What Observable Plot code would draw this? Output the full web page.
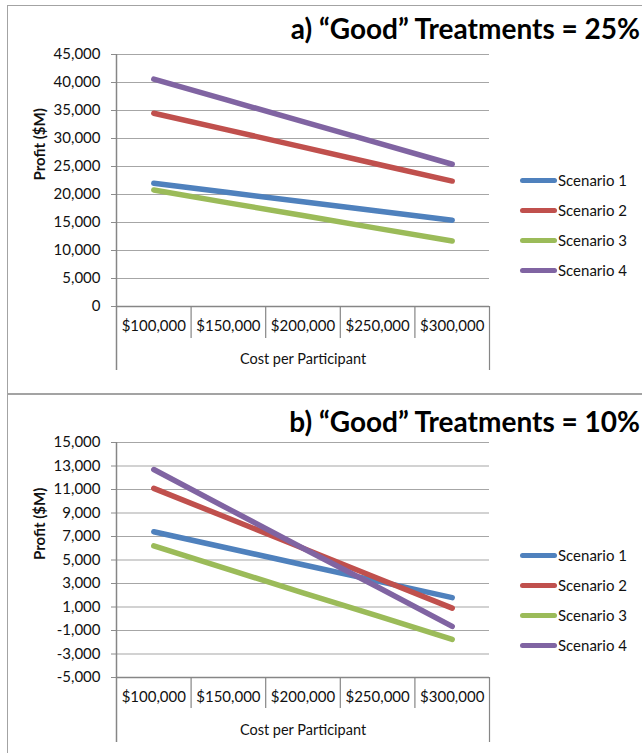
<!DOCTYPE html>
<html>
<head>
<meta charset="utf-8">
<script src="https://cdn.jsdelivr.net/npm/d3@7"></script>
<script src="https://cdn.jsdelivr.net/npm/@observablehq/plot@0.6"></script>
<style>
  html, body { margin: 0; padding: 0; background: #fff; }
  body { width: 642px; height: 753px; position: relative; overflow: hidden; font-family: Lato, "Open Sans", sans-serif; }
  .panel { position: absolute; left: 7px; width: 640px; box-sizing: border-box; border-left: 1.5px solid #a3a3a3; }
  .chart { position: absolute; left: 0; }
  .title { position: absolute; right: 2px; font: bold 28px Lato, sans-serif; color: #000; line-height: 1; white-space: nowrap; }
  .legend { position: absolute; left: 520px; font: 15px Lato, sans-serif; color: #111; }
  .legend .row { display: flex; align-items: center; height: 30px; }
  .legend .sw { display: inline-block; width: 37px; height: 5px; border-radius: 3px; margin-right: 1px; }
  g[aria-label^="y-axis"] line, g[aria-label="y-axis tick"] path { stroke: #8c8c8c; }
  g[aria-label="y-axis tick"] { stroke: #8c8c8c; }
</style>
</head>
<body>
<div class="panel" style="top:5px;height:388.5px;border-top:1.5px solid #a3a3a3;border-bottom:1.5px solid #a3a3a3;"></div>
<div class="panel" style="top:393.5px;height:400px;border-top:1.5px solid #a3a3a3;"></div>
<div id="chartA" class="chart" style="top:0px;"></div>
<div id="chartB" class="chart" style="top:393px;"></div>
<div class="title" style="top:14px;">a) “Good” Treatments = 25%</div>
<div class="title" style="top:407px;">b) “Good” Treatments = 10%</div>
<div id="legendA" class="legend" style="top:165px;"></div>
<div id="legendB" class="legend" style="top:540px;"></div>
<script>
// ---- data ----
const categories = ["$100,000", "$150,000", "$200,000", "$250,000", "$300,000"];
const seriesNames = ["Scenario 1", "Scenario 2", "Scenario 3", "Scenario 4"];
const seriesColors = ["#4F81BD", "#C0504D", "#9BBB59", "#8064A2"];
const xTitle = "Cost per Participant";
const yTitle = "Profit ($M)";

// a) "Good" Treatments = 25%
const profitA1 = [22000, 20350, 18700, 17050, 15400];
const profitA2 = [34500, 31500, 28450, 25400, 22400];
const profitA3 = [20800, 18500, 16250, 13950, 11700];
const profitA4 = [40600, 36800, 33000, 29200, 25400];
const yTicksA = [0, 5000, 10000, 15000, 20000, 25000, 30000, 35000, 40000, 45000];

// b) "Good" Treatments = 10%
const profitB1 = [7400, 6000, 4600, 3200, 1800];
const profitB2 = [11100, 8550, 6000, 3450, 900];
const profitB3 = [6200, 4200, 2200, 250, -1750];
const profitB4 = [12700, 9350, 6000, 2700, -650];
const yTicksB = [-5000, -3000, -1000, 1000, 3000, 5000, 7000, 9000, 11000, 13000, 15000];

// ---- helpers ----
const fmt = d => (d < 0 ? "-" : "") + d3.format(",")(Math.abs(d));

function toRows(seriesArrays) {
  const rows = [];
  seriesArrays.forEach((vals, s) => {
    vals.forEach((v, i) => rows.push({ i: i + 1, value: v, series: seriesNames[s] }));
  });
  return rows;
}

const innerSeps = categories.slice(1).map((c, i) => i + 1.5);
const leftEdge = 0.5;
const rightEdge = categories.length + 0.5;

function makeChart(opts) {
  const { rows, yTicks, height, marginTop, marginBottom } = opts;
  const plotH = height - marginTop - marginBottom;
  const yMin = yTicks[0], yMax = yTicks[yTicks.length - 1];
  const grey = "#a6a6a6";
  const axisGrey = "#868686";
  return Plot.plot({
    width: 642,
    height,
    marginTop,
    marginBottom,
    marginLeft: 116,
    marginRight: 153,
    style: { fontFamily: "Lato, sans-serif", fontSize: "15px", color: "#111", background: "transparent", overflow: "visible" },
    x: { domain: [leftEdge, rightEdge], axis: null },
    y: { domain: [yMin, yMax], ticks: yTicks, tickFormat: fmt, tickSize: 5, tickPadding: 11, label: null },
    color: { domain: seriesNames, range: seriesColors },
    marks: [
      Plot.ruleY(yTicks.slice(1), { stroke: grey, strokeWidth: 1.2 }),
      Plot.ruleY([yMin], { stroke: axisGrey, strokeWidth: 1.5 }),
      Plot.ruleX([leftEdge], { stroke: axisGrey, strokeWidth: 1.5, insetBottom: -opts.outerExt }),
      Plot.ruleX([rightEdge], { stroke: axisGrey, strokeWidth: 1.2, insetTop: plotH, insetBottom: -opts.outerExt }),
      Plot.ruleX(innerSeps, { stroke: axisGrey, strokeWidth: 1.2, insetTop: plotH, insetBottom: -opts.innerExt }),
      Plot.text(categories, { x: (d, i) => i + 1, text: d => d, frameAnchor: "bottom", dy: 24, fill: "#111" }),
      Plot.text([xTitle], { frameAnchor: "bottom", dy: 57, fontSize: 14.5, fill: "#111" }),
      Plot.text([yTitle], { frameAnchor: "left", dx: -76, rotate: -90, fontWeight: "bold", fontSize: 15, fill: "#111" }),
      Plot.line(rows, { x: "i", y: "value", z: "series", stroke: "series", strokeWidth: 5.5, strokeLinecap: "round", strokeLinejoin: "round" })
    ]
  });
}

document.getElementById("chartA").appendChild(makeChart({
  rows: toRows([profitA1, profitA2, profitA3, profitA4]),
  yTicks: yTicksA, height: 393, marginTop: 54, marginBottom: 87, innerExt: 32, outerExt: 64
}));
document.getElementById("chartB").appendChild(makeChart({
  rows: toRows([profitB1, profitB2, profitB3, profitB4]),
  yTicks: yTicksB, height: 360, marginTop: 49, marginBottom: 76, innerExt: 31, outerExt: 65
}));

function makeLegend(el) {
  seriesNames.forEach((name, s) => {
    const row = document.createElement("div");
    row.className = "row";
    const sw = document.createElement("span");
    sw.className = "sw";
    sw.style.background = seriesColors[s];
    const t = document.createElement("span");
    t.textContent = name;
    row.appendChild(sw);
    row.appendChild(t);
    el.appendChild(row);
  });
}
makeLegend(document.getElementById("legendA"));
makeLegend(document.getElementById("legendB"));
</script>
</body>
</html>
